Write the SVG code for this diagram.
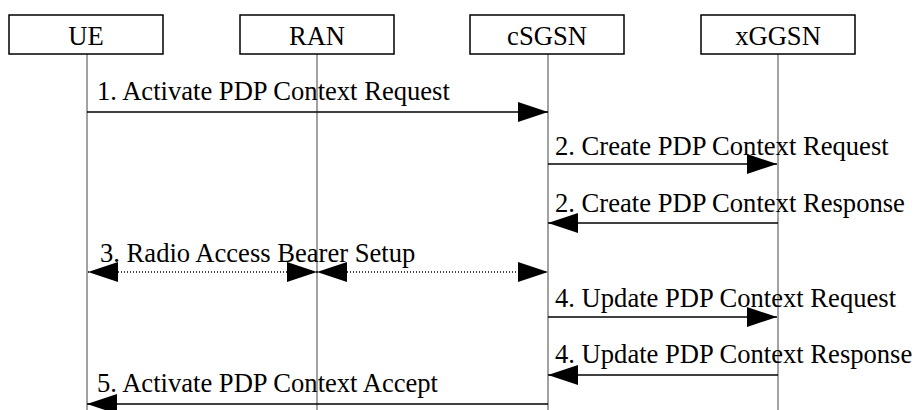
<svg xmlns="http://www.w3.org/2000/svg" width="914" height="410" viewBox="0 0 914 410">
<defs>
<style>
.box{fill:#fff;stroke:#000;stroke-width:1.5}
.lbl{font-family:"Liberation Serif","Times New Roman",serif;font-size:26.6px;fill:#000}
.life{stroke:#444;stroke-width:1}
.msg{stroke:#000;stroke-width:1.6;fill:none}
.dot{stroke:#000;stroke-width:1.5;stroke-dasharray:1 2;fill:none}
</style>
<marker id="ah" markerUnits="userSpaceOnUse" markerWidth="30" markerHeight="20" refX="30" refY="10" orient="auto-start-reverse" viewBox="0 0 30 20">
<path d="M0,0 L30,10 L0,20 z" fill="#000"/>
</marker>
</defs>
<rect width="914" height="410" fill="#fff"/>
<g id="lifelines">
<line class="life" x1="87" y1="54" x2="87" y2="410"/>
<line class="life" x1="317" y1="54" x2="317" y2="410"/>
<line class="life" x1="548" y1="54" x2="548" y2="410"/>
<line class="life" x1="778" y1="54" x2="778" y2="410"/>
</g>
<g id="UE"><rect class="box" x="9" y="15" width="154" height="39"/><text class="lbl" x="86" y="45" text-anchor="middle">UE</text></g>
<g id="RAN"><rect class="box" x="240" y="15" width="154" height="39"/><text class="lbl" x="317" y="45" text-anchor="middle">RAN</text></g>
<g id="cSGSN"><rect class="box" x="470" y="15" width="154" height="39"/><text class="lbl" x="547" y="45" text-anchor="middle">cSGSN</text></g>
<g id="xGGSN"><rect class="box" x="701" y="15" width="154" height="39"/><text class="lbl" x="778" y="45" text-anchor="middle">xGGSN</text></g>
<g id="connectors">
<line class="msg" x1="87" y1="112" x2="548" y2="112" marker-end="url(#ah)"/>
<line class="msg" x1="548" y1="164" x2="777" y2="164" marker-end="url(#ah)"/>
<line class="msg" x1="778" y1="223" x2="548" y2="223" marker-end="url(#ah)"/>
<line class="dot" x1="88" y1="272" x2="317" y2="272" marker-start="url(#ah)" marker-end="url(#ah)"/>
<line class="dot" x1="317" y1="272" x2="548" y2="272" marker-start="url(#ah)" marker-end="url(#ah)"/>
<line class="msg" x1="548" y1="317" x2="777" y2="317" marker-end="url(#ah)"/>
<line class="msg" x1="778" y1="375" x2="548" y2="375" marker-end="url(#ah)"/>
<line class="msg" x1="548" y1="404" x2="87" y2="404" marker-end="url(#ah)"/>
</g>
<g id="labels">
<text class="lbl" x="97" y="100">1. Activate PDP Context Request</text>
<text class="lbl" x="555" y="155">2. Create PDP Context Request</text>
<text class="lbl" x="555" y="212">2. Create PDP Context Response</text>
<text class="lbl" x="100" y="262">3. Radio Access Bearer Setup</text>
<text class="lbl" x="555" y="307">4. Update PDP Context Request</text>
<text class="lbl" x="555" y="363">4. Update PDP Context Response</text>
<text class="lbl" x="97" y="392">5. Activate PDP Context Accept</text>
</g>
</svg>
